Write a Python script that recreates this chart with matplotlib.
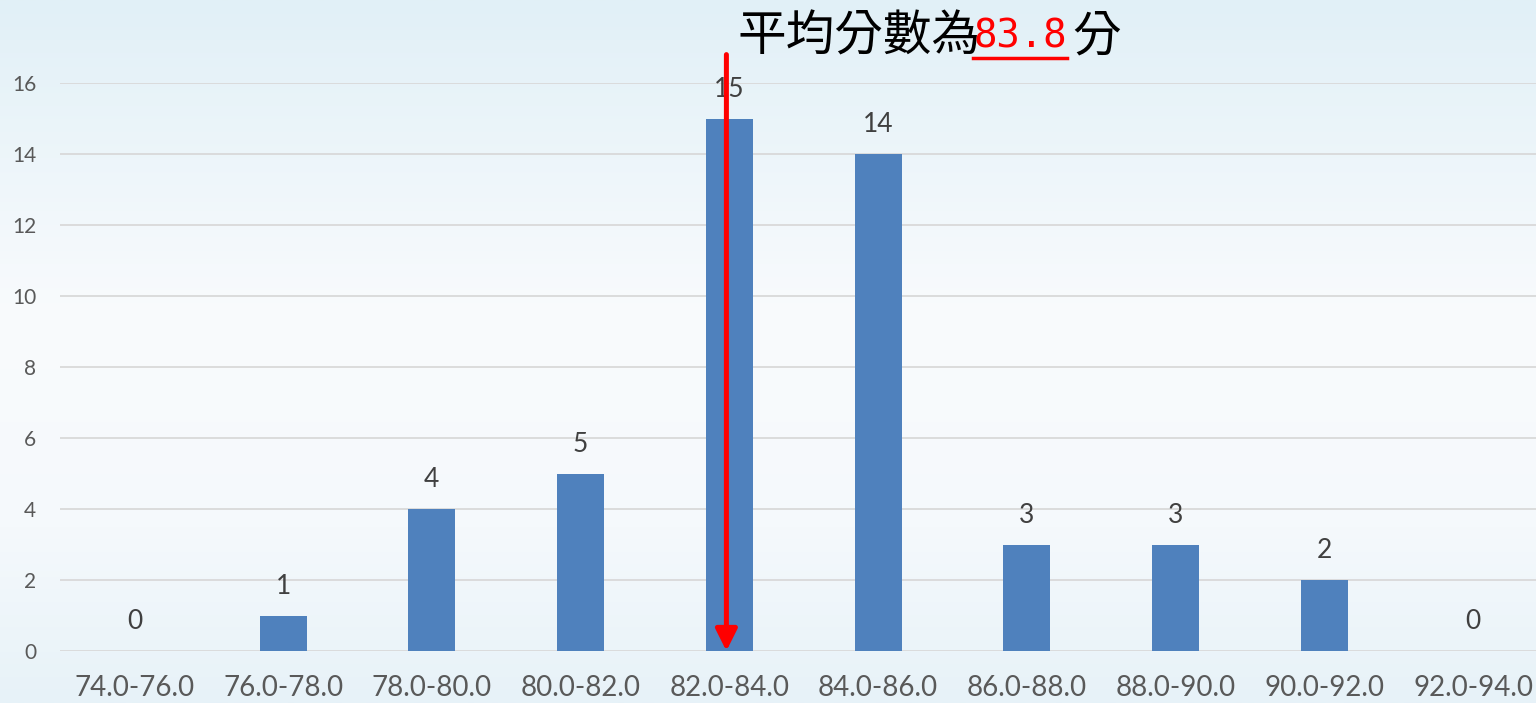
import matplotlib
matplotlib.use("Agg")
import matplotlib.pyplot as plt
import numpy as np
from matplotlib.colors import to_rgb
from matplotlib.lines import Line2D

# score bins and number of students in each
bins = ["74.0-76.0", "76.0-78.0", "78.0-80.0", "80.0-82.0", "82.0-84.0",
        "84.0-86.0", "86.0-88.0", "88.0-90.0", "90.0-92.0", "92.0-94.0"]
counts = [0, 1, 4, 5, 15, 14, 3, 3, 2, 0]
mean_score = "83.8"
mean_pos = 3.98          # where the arrow sits on the category axis
yticks = list(range(0, 17, 2))

W, H = 1536, 703
fig = plt.figure(figsize=(W / 100, H / 100), dpi=100)

# soft blue slide background
bg = fig.add_axes([0, 0, 1, 1], zorder=-10)
stops = [(0.0, "#e1f0f7"), (0.45, "#f9fbfd"), (0.75, "#f5f9fc"), (1.0, "#e7f2f8")]
yy = np.linspace(0, 1, 400)
grad = np.zeros((400, 1, 3))
for c in range(3):
    grad[:, 0, c] = np.interp(yy, [s[0] for s in stops], [to_rgb(s[1])[c] for s in stops])
bg.imshow(grad, aspect="auto", extent=[0, 1, 0, 1])
bg.axis("off")

ax = fig.add_axes([60 / W, 52 / H, 1487.5 / W, 568 / H])
ax.set_facecolor("none")
x = np.arange(len(bins))
ax.bar(x, counts, width=0.315, color="#4f81bd", zorder=3)
ax.set_xlim(-0.5, len(bins) - 0.5)
ax.set_ylim(0, 16)
ax.set_yticks(yticks)
for v in yticks:
    ax.axhline(v, color="#d9d9d9", lw=1.3, zorder=1)
for s in ax.spines.values():
    s.set_visible(False)
ax.set_xticks(x)
ax.set_xticklabels(bins, fontsize=20, family="Lato", color="#595959")
ax.tick_params(axis="x", length=0, pad=17)
ax.tick_params(axis="y", length=0, pad=17, labelsize=15, labelcolor="#595959")
for lab in ax.get_yticklabels():
    lab.set_family("Lato")

for xi, c in zip(x, counts):
    ax.annotate(str(c), (xi, c), xytext=(0, 21), textcoords="offset points",
                ha="center", va="center", fontsize=19, family="Lato",
                color="#404040", zorder=4)

# red arrow marking the mean
ax.annotate("", xy=(mean_pos, 0), xytext=(mean_pos, 16.8),
            arrowprops=dict(arrowstyle="-|>,head_length=13,head_width=6.5",
                            mutation_scale=1, color="red", lw=3.6,
                            shrinkA=0, shrinkB=0),
            annotation_clip=False, zorder=6)

# title: 平均分數為83.8分
cjk = ["Noto Sans CJK TC", "DejaVu Sans"]
t1 = fig.text(737 / W, 1 - 51 / H, "平均分數為", family=cjk, fontsize=35,
              color="black", va="baseline", ha="left")
t2 = fig.text(973 / W, 1 - 47 / H, mean_score, family="DejaVu Sans Mono",
              fontsize=28, color="red", va="baseline", ha="left")
t3 = fig.text(1072 / W, 1 - 51 / H, "分", family=cjk, fontsize=35,
              color="black", va="baseline", ha="left")

fig.canvas.draw()
bb = t2.get_window_extent()
fig.add_artist(Line2D([bb.x0 / W, bb.x1 / W], [1 - 58 / H, 1 - 58 / H],
                      color="red", lw=2.5, transform=fig.transFigure))

fig.savefig("out.png", dpi=100)
